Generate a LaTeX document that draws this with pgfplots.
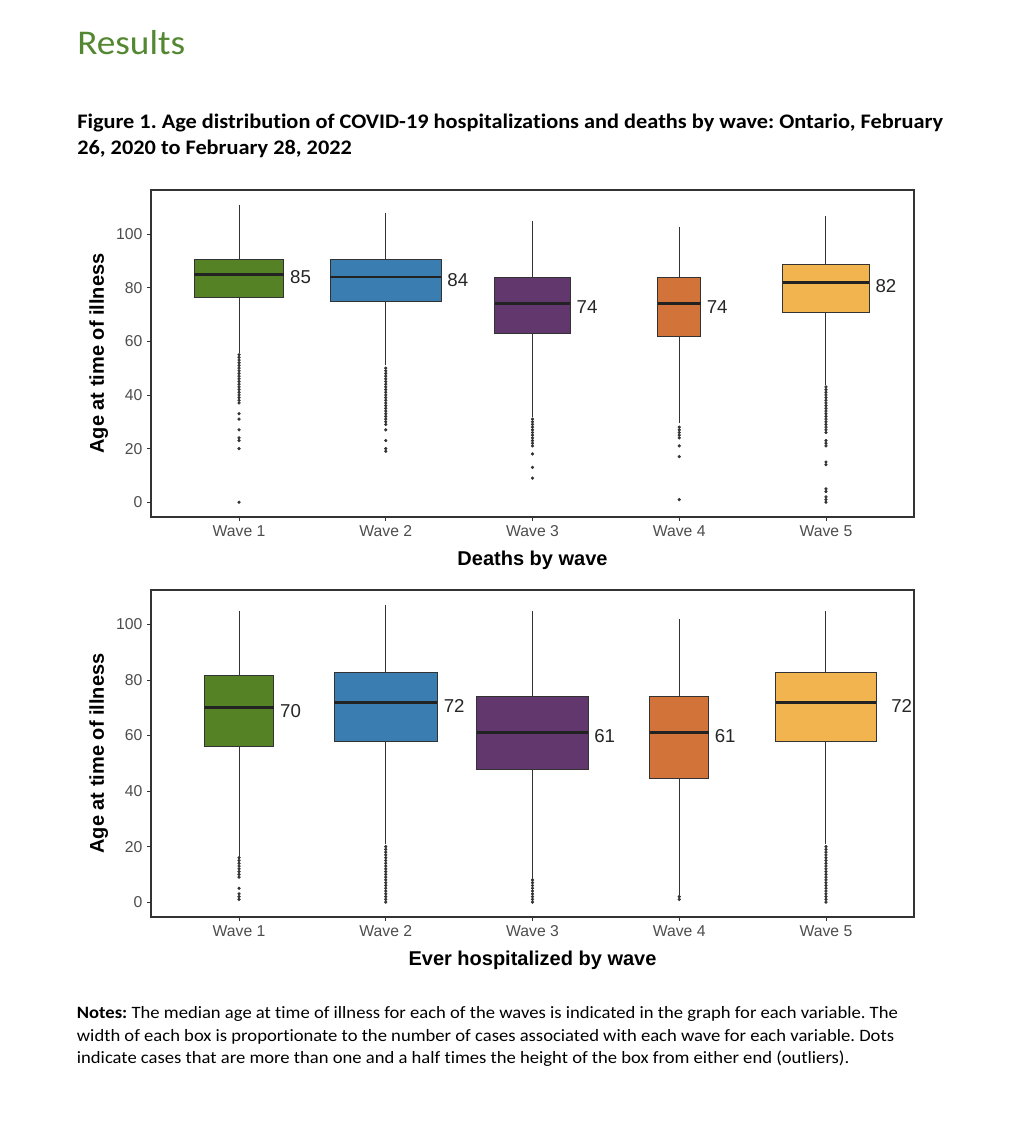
\documentclass[border=0pt]{standalone}
\usepackage{pgfplots}
\pgfplotsset{compat=1.18}
\usepgfplotslibrary{statistics}
\usepackage{fontspec}
\newfontfamily\arial{Liberation Sans}
\newfontfamily\calibri[Ligatures=NoCommon]{Carlito}
\frenchspacing
\definecolor{cA}{RGB}{84,130,36}
\definecolor{cB}{RGB}{58,125,176}
\definecolor{cC}{RGB}{98,55,110}
\definecolor{cD}{RGB}{210,115,58}
\definecolor{cE}{RGB}{242,180,78}
\definecolor{titlegreen}{RGB}{83,135,50}
\definecolor{boxline}{RGB}{51,51,51}
\definecolor{medline}{RGB}{34,34,34}
\definecolor{tickgray}{RGB}{77,77,77}
\tikzset{medlab/.style={anchor=west, inner sep=0pt, xshift=4.5pt, yshift=-2.5pt, font=\arial\fontsize{14}{16}\selectfont, text=black!85}}
\pgfplotsset{
  boxaxis/.style={
    scale only axis, width=572.25pt, height=245.25pt,
    xmin=0.4, xmax=5.6,
    xtick={1,2,3,4,5},
    xticklabels={Wave 1,Wave 2,Wave 3,Wave 4,Wave 5},
    ytick={0,20,40,60,80,100},
    xtick pos=bottom, ytick pos=left,
    tick align=outside, major tick length=3pt,
    tick style={color=boxline, line width=0.6pt},
    axis line style={color=boxline, line width=0.8pt},
    tick label style={font=\arial\fontsize{11.8}{13}\selectfont, text=tickgray},
    /pgf/number format/assume math mode=true,
    every axis x label/.style={at={(axis description cs:0.5,-0.1468)}, anchor=base, font=\arial\bfseries\fontsize{15}{17}\selectfont, text=black},
    every axis y label/.style={at={(axis description cs:-0.0616,0.5)}, rotate=90, anchor=base, font=\arial\bfseries\fontsize{15}{17}\selectfont, text=black},
    ylabel={Age at time of illness},
    boxplot/draw direction=y,
    boxplot/every box/.style={draw=boxline, line width=0.75pt},
    boxplot/every whisker/.style={draw=boxline, line width=0.75pt},
    boxplot/every median/.style={draw=medline, line width=2pt},
    clip=false,
  },
  bx/.style={draw=boxline, mark=*, mark size=1pt, mark options={fill=boxline, draw=none}},
}
\begin{document}
\begin{tikzpicture}
\fill[white] (0,0) rectangle (765pt,841.5pt);
\node[anchor=base west, inner sep=0pt, font=\calibri\fontsize{26}{30}\selectfont, text=titlegreen] at (57.75pt,800.25pt) {\scalebox{1.075}[1]{Results}};
\node[anchor=base west, inner sep=0pt, font=\calibri\bfseries\fontsize{15.5}{17}\selectfont] at (57.75pt,745.3pt) {\scalebox{1.08}[1]{Figure 1. Age distribution of COVID-19 hospitalizations and deaths by wave: Ontario, February}};
\node[anchor=base west, inner sep=0pt, font=\calibri\bfseries\fontsize{15.5}{17}\selectfont] at (57.75pt,725.25pt) {\scalebox{1.08}[1]{26, 2020 to February 28, 2022}};
\node[anchor=base west, inner sep=0pt, font=\calibri\fontsize{13}{14}\selectfont] at (57.5pt,77.6pt) {\scalebox{1.074}[1]{\textbf{Notes:} The median age at time of illness for each of the waves is indicated in the graph for each variable. The}};
\node[anchor=base west, inner sep=0pt, font=\calibri\fontsize{13}{14}\selectfont] at (57.5pt,60.2pt) {\scalebox{1.074}[1]{width of each box is proportionate to the number of cases associated with each wave for each variable. Dots}};
\node[anchor=base west, inner sep=0pt, font=\calibri\fontsize{13}{14}\selectfont] at (57.5pt,43.5pt) {\scalebox{1.074}[1]{indicate cases that are more than one and a half times the height of the box from either end (outliers).}};

% ---------------- Top panel: deaths
\begin{axis}[boxaxis, at={(113.25pt,453.75pt)}, anchor=south west,
  ymin=-5.5, ymax=116.4, xlabel={Deaths by wave}]
\addplot[bx, fill=cA, boxplot prepared={draw position=1, median=85, upper quartile=90.4, lower quartile=76.4, upper whisker=110.9, lower whisker=55.5, box extend=0.612, whisker extend=0}]
 table[row sep=\\, y index=0]{data\\ 55\\ 54\\ 53\\ 52\\ 51\\ 50\\ 49\\ 48\\ 47\\ 46\\ 45\\ 44\\ 43\\ 42\\ 41\\ 40\\ 39\\ 38\\ 37\\ 33\\ 31\\ 27\\ 24\\ 23\\ 20\\ 0\\};
\addplot[bx, fill=cB, boxplot prepared={draw position=2, median=84, upper quartile=90.4, lower quartile=74.9, upper whisker=107.7, lower whisker=51, box extend=0.755, whisker extend=0}]
 table[row sep=\\, y index=0]{data\\ 50\\ 49\\ 48\\ 47\\ 46\\ 45\\ 44\\ 43\\ 42\\ 41\\ 40\\ 39\\ 38\\ 37\\ 36\\ 35\\ 34\\ 33\\ 32\\ 31\\ 30\\ 29\\ 27\\ 23\\ 20\\ 19\\};
\addplot[bx, fill=cC, boxplot prepared={draw position=3, median=74, upper quartile=83.9, lower quartile=62.8, upper whisker=104.7, lower whisker=31.8, box extend=0.517, whisker extend=0}]
 table[row sep=\\, y index=0]{data\\ 31\\ 30\\ 29\\ 28\\ 27\\ 26\\ 25\\ 24\\ 23\\ 22\\ 21\\ 18\\ 13\\ 9\\};
\addplot[bx, fill=cD, boxplot prepared={draw position=4, median=74, upper quartile=83.9, lower quartile=61.8, upper whisker=102.7, lower whisker=29.4, box extend=0.29, whisker extend=0}]
 table[row sep=\\, y index=0]{data\\ 28\\ 27\\ 26\\ 25\\ 24\\ 21\\ 17\\ 1\\};
\addplot[bx, fill=cE, boxplot prepared={draw position=5, median=82, upper quartile=88.6, lower quartile=70.6, upper whisker=106.8, lower whisker=43.6, box extend=0.59, whisker extend=0}]
 table[row sep=\\, y index=0]{data\\ 43\\ 42\\ 41\\ 40\\ 39\\ 38\\ 37\\ 36\\ 35\\ 34\\ 33\\ 32\\ 31\\ 30\\ 29\\ 28\\ 27\\ 26\\ 23\\ 22\\ 21\\ 15\\ 14\\ 5\\ 4\\ 2\\ 1\\ 0\\};
\node[medlab] at (axis cs:1.306,85) {85};
\node[medlab] at (axis cs:2.3775,84) {84};
\node[medlab] at (axis cs:3.2585,74) {74};
\node[medlab] at (axis cs:4.145,74) {74};
\node[medlab] at (axis cs:5.295,82) {82};
\end{axis}

% ---------------- Bottom panel: hospitalized
\begin{axis}[boxaxis, at={(113.25pt,153.75pt)}, anchor=south west,
  ymin=-5.35, ymax=112.4, xlabel={Ever hospitalized by wave}]
\addplot[bx, fill=cA, boxplot prepared={draw position=1, median=70, upper quartile=81.6, lower quartile=55.9, upper whisker=105, lower whisker=16.2, box extend=0.476, whisker extend=0}]
 table[row sep=\\, y index=0]{data\\ 16\\ 15\\ 14\\ 13\\ 12\\ 11\\ 10\\ 9\\ 5\\ 3\\ 2\\ 1\\};
\addplot[bx, fill=cB, boxplot prepared={draw position=2, median=72, upper quartile=82.7, lower quartile=58, upper whisker=107, lower whisker=20.8, box extend=0.705, whisker extend=0}]
 table[row sep=\\, y index=0]{data\\ 20\\ 19\\ 18\\ 17\\ 16\\ 15\\ 14\\ 13\\ 12\\ 11\\ 10\\ 9\\ 8\\ 7\\ 6\\ 5\\ 4\\ 3\\ 2\\ 1\\ 0\\};
\addplot[bx, fill=cC, boxplot prepared={draw position=3, median=61, upper quartile=74.2, lower quartile=47.9, upper whisker=105, lower whisker=8.5, box extend=0.757, whisker extend=0}]
 table[row sep=\\, y index=0]{data\\ 8\\ 7\\ 6\\ 5\\ 4\\ 3\\ 2\\ 1\\ 0\\};
\addplot[bx, fill=cD, boxplot prepared={draw position=4, median=61, upper quartile=74.2, lower quartile=44.7, upper whisker=101.8, lower whisker=2.5, box extend=0.40, whisker extend=0}]
 table[row sep=\\, y index=0]{data\\ 2\\ 1\\};
\addplot[bx, fill=cE, boxplot prepared={draw position=5, median=72, upper quartile=82.7, lower quartile=58, upper whisker=105, lower whisker=20.8, box extend=0.687, whisker extend=0}]
 table[row sep=\\, y index=0]{data\\ 20\\ 19\\ 18\\ 17\\ 16\\ 15\\ 14\\ 13\\ 12\\ 11\\ 10\\ 9\\ 8\\ 7\\ 6\\ 5\\ 4\\ 3\\ 2\\ 1\\ 0\\};
\node[medlab] at (axis cs:1.238,70) {70};
\node[medlab] at (axis cs:2.3525,72) {72};
\node[medlab] at (axis cs:3.3785,61) {61};
\node[medlab] at (axis cs:4.20,61) {61};
\node[medlab, xshift=6.5pt] at (axis cs:5.3435,72) {72};
\end{axis}
\end{tikzpicture}
\end{document}
